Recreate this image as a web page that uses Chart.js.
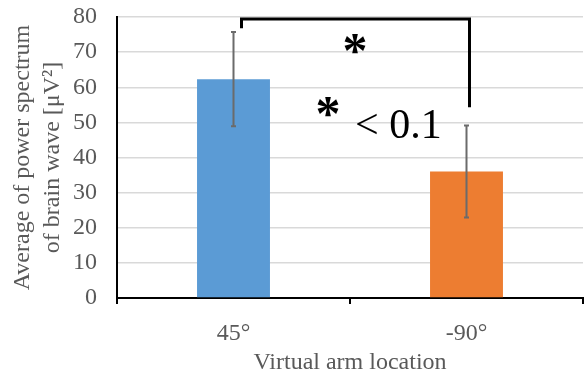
<!DOCTYPE html>
<html>
<head>
<meta charset="utf-8">
<script src="https://cdn.jsdelivr.net/npm/chart.js@4/dist/chart.umd.min.js"></script>
<style>
  html, body { margin: 0; padding: 0; background: #fff; }
  #wrap { width: 588px; height: 376px; }
</style>
</head>
<body>
<div id="wrap"><canvas id="chart"></canvas></div>
<script>
// values
const categories = ['45°', '-90°'];
const means = [62.3, 36.0];
const errors = [13.4, 13.1];
const barColors = ['#5b9bd5', '#ed7d31'];
const yTicks = [0, 10, 20, 30, 40, 50, 60, 70, 80];

// bracket heights (in data units)
const bracketTop = 79.4;
const bracketLeftEnd = 76.8;
const bracketRightEnd = 54.3;

const serif = '"Liberation Serif", "Times New Roman", serif';

// error bars drawn on top of the bars
const errorBars = {
  id: 'errorBars',
  afterDatasetsDraw(chart) {
    const ctx = chart.ctx;
    const meta = chart.getDatasetMeta(0);
    const y = chart.scales.y;
    ctx.save();
    ctx.strokeStyle = '#6b6b6b';
    ctx.lineWidth = 2;
    meta.data.forEach((bar, i) => {
      const top = y.getPixelForValue(means[i] + errors[i]);
      const bot = y.getPixelForValue(means[i] - errors[i]);
      ctx.beginPath();
      ctx.moveTo(bar.x, top); ctx.lineTo(bar.x, bot);
      ctx.moveTo(bar.x - 2.5, top); ctx.lineTo(bar.x + 2.5, top);
      ctx.moveTo(bar.x - 2.5, bot); ctx.lineTo(bar.x + 2.5, bot);
      ctx.stroke();
    });
    ctx.restore();
  }
};

// significance bracket and labels
const bracket = {
  id: 'bracket',
  afterDatasetsDraw(chart) {
    const ctx = chart.ctx;
    const x = chart.scales.x, y = chart.scales.y;
    const x0 = x.getPixelForValue(0) + 8;
    const x1 = x.getPixelForValue(1) + 3;
    const yt = y.getPixelForValue(bracketTop);
    ctx.save();
    ctx.strokeStyle = '#000';
    ctx.lineWidth = 3;
    ctx.beginPath();
    ctx.moveTo(x0, y.getPixelForValue(bracketLeftEnd));
    ctx.lineTo(x0, yt);
    ctx.lineTo(x1, yt);
    ctx.lineTo(x1, y.getPixelForValue(bracketRightEnd));
    ctx.stroke();

    ctx.fillStyle = '#000';
    ctx.textBaseline = 'middle';
    ctx.textAlign = 'center';
    ctx.font = 'bold 50px ' + serif;
    ctx.fillText('*', 355, 54);
    ctx.fillText('*', 328, 117);
    ctx.textAlign = 'left';
    ctx.textBaseline = 'alphabetic';
    ctx.font = '42px ' + serif;
    ctx.fillText('< 0.1', 355, 138);
    ctx.restore();
  }
};

new Chart(document.getElementById('chart'), {
  type: 'bar',
  data: {
    labels: categories,
    datasets: [{
      data: means,
      backgroundColor: barColors,
      barPercentage: 0.313,
      categoryPercentage: 1.0
    }]
  },
  options: {
    responsive: true,
    maintainAspectRatio: false,
    animation: false,
    layout: { padding: { top: 17, right: 5, left: 0, bottom: 0 } },
    plugins: {
      legend: { display: false },
      tooltip: { enabled: false }
    },
    scales: {
      x: {
        afterFit: s => { s.height = 78; },
        grid: { offset: true, drawOnChartArea: false, drawTicks: true, tickLength: 6, color: '#000', lineWidth: 2 },
        border: { color: '#000', width: 2 },
        ticks: { color: '#595959', padding: 18, font: { family: serif, size: 24, lineHeight: 1.0 } },
        title: { display: true, text: 'Virtual arm location', color: '#595959', padding: { top: 0, bottom: 1 }, font: { family: serif, size: 24, lineHeight: 1.0 } }
      },
      y: {
        min: 0, max: 80,
        afterBuildTicks: s => { s.ticks = yTicks.map(v => ({ value: v })); },
        afterFit: s => { s.width = 117; s.paddingTop = 0; s.paddingBottom = 0; },
        grid: { color: '#d9d9d9', lineWidth: 1.5, drawTicks: false },
        border: { color: '#000', width: 2 },
        ticks: { color: '#595959', padding: 20, font: { family: serif, size: 24 } },
        title: {
          display: true,
          text: ['Average of power spectrum', 'of brain wave [μV²]'],
          color: '#595959',
          padding: { top: 8, bottom: 0 },
          font: { family: serif, size: 24, lineHeight: 1.25 }
        }
      }
    }
  },
  plugins: [errorBars, bracket]
});
</script>
</body>
</html>
